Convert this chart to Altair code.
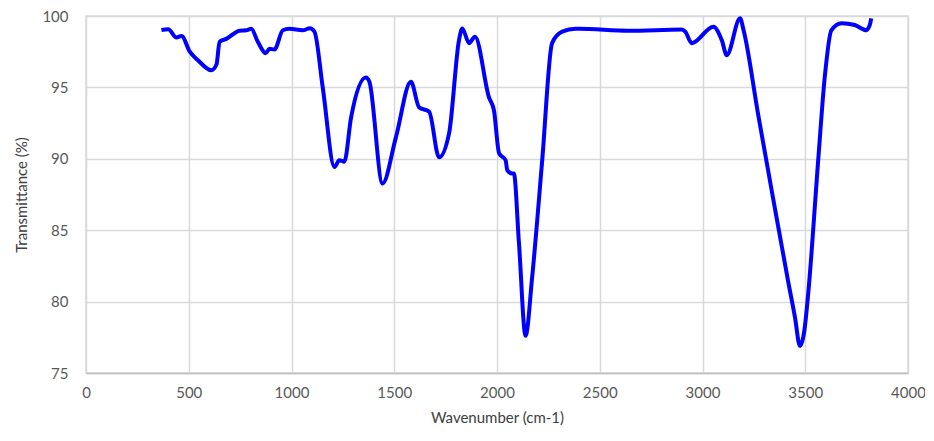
import altair as alt
import pandas as pd

wavenumber = [367, 400, 440, 465, 505, 545, 610, 635, 650, 683, 747, 780, 804, 836, 874, 893, 917,
              958, 990, 1055, 1090, 1112, 1152, 1209, 1233, 1257, 1290, 1362, 1379, 1443, 1508,
              1581, 1621, 1670, 1718, 1767, 1815, 1831, 1864, 1893, 1961, 1985, 2010, 2042, 2050,
              2074, 2082, 2107, 2139, 2171, 2220, 2268, 2317, 2382, 2398, 2641, 2900, 2916, 2948,
              3053, 3094, 3118, 3183, 3200, 3272, 3344, 3417, 3450, 3474, 3495, 3514, 3563, 3595,
              3627, 3676, 3741, 3797, 3814, 3821]
transmittance = [99.02, 99.07, 98.5, 98.6, 97.5, 96.9, 96.2, 96.6, 98.2, 98.4, 98.97, 99.0, 99.1, 98.2,
                 97.4, 97.7, 97.66, 99.0, 99.1, 99.0, 99.15, 98.9, 95.0, 89.43, 89.9, 89.8, 92.9,
                 95.7, 95.4, 88.27, 91.5, 95.4, 93.6, 93.3, 90.1, 91.8, 98.3, 99.13, 98.1, 98.55,
                 94.3, 93.4, 90.4, 89.9, 89.2, 88.97, 88.97, 84.06, 77.6, 81.7, 89.9, 98.1, 98.9,
                 99.1, 99.1, 98.97, 99.05, 98.9, 98.1, 99.25, 98.3, 97.26, 99.84, 99.0, 93.0, 87.2,
                 81.4, 78.9, 76.9, 77.9, 80.5, 89.9, 95.74, 99.0, 99.5, 99.37, 99.0, 99.37, 99.84]

x_ticks = [0, 500, 1000, 1500, 2000, 2500, 3000, 3500, 4000]
y_ticks = [75, 80, 85, 90, 95, 100]

df = pd.DataFrame({"wn": wavenumber, "t": transmittance})

font = "Lato"

chart = alt.Chart(df).mark_line(
    color="#0000FF", strokeWidth=4, interpolate="monotone"
).encode(
    x=alt.X("wn:Q", scale=alt.Scale(domain=[0, 4000], nice=False, zero=False),
            axis=alt.Axis(values=x_ticks, title="Wavenumber (cm-1)", grid=True,
                          ticks=False, domain=True, domainColor="#bfbfbf", domainWidth=1.5,
                          labelPadding=12, titlePadding=10, format="d", labelFlush=False)),
    y=alt.Y("t:Q", scale=alt.Scale(domain=[75, 100], nice=False, zero=False),
            axis=alt.Axis(values=y_ticks, title="Transmittance (%)", grid=True,
                          ticks=False, domain=False, labelPadding=18, titlePadding=12,
                          format="d", labelFlush=False)),
).properties(
    width=822, height=357,
    autosize=alt.AutoSizeParams(type="none"),
    padding={"left": 78, "top": 8, "right": 17, "bottom": 60},
).configure_axis(
    gridColor="#d9d9d9", gridWidth=1.5,
    labelFont=font, labelFontSize=15, labelColor="#595959",
    titleFont=font, titleFontSize=15, titleColor="#404040", titleFontWeight="normal",
).configure_view(stroke="#d9d9d9", strokeWidth=1.5)

chart.save("out.html", embed_options={"renderer": "svg", "actions": False})
